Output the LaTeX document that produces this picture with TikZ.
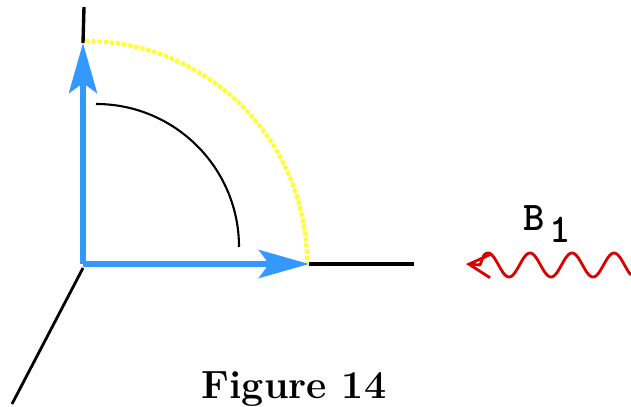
\documentclass[tikz,border=0pt]{standalone}
\usetikzlibrary{arrows.meta}
\definecolor{vecblue}{RGB}{51,153,255}
\definecolor{dotyellow}{RGB}{255,255,51}
\definecolor{wavered}{RGB}{221,0,0}

\begin{document}
\begin{tikzpicture}[x=0.025cm,y=0.025cm]
\tikzset{
  axisline/.style={draw=black,line width=2.4pt},
  diagline/.style={draw=black,line width=2pt},
  vector/.style={draw=vecblue,line width=4pt,-{Stealth[length=12.5mm,width=7mm,inset=2.5mm]}},
  sweep/.style={draw=black,line width=1.5pt},
  dotarc/.style={draw=dotyellow,line width=3pt,dash pattern=on 1.1mm off 0.45mm},
  wave/.style={draw=wavered,line width=2pt,line join=round},
  label/.style={inner sep=0pt}
}
\useasboundingbox (0,0) rectangle (631,407);
% frame
\coordinate (n_O) at (83,143);
\coordinate (n_Ztip) at (83,364);
\coordinate (n_Ztop) at (84,400);
\coordinate (n_Xtip) at (309,143);
\coordinate (n_Xend) at (414,143);
\coordinate (n_Yend) at (12,3);
\coordinate (n_Ystart) at (83,139);
\draw[axisline] (n_Ztip) -- (n_Ztop);
\draw[axisline] (n_Xtip) -- (n_Xend);
\draw[diagline] (n_Ystart) -- (n_Yend);
% rotation
\draw[dotarc] (85,366) arc (90:0:222);
\draw[sweep] (96,303) arc (90:0:143);
\draw[vector] (n_O) -- (n_Ztip);
\draw[vector] (n_O) -- (n_Xtip);
% rf field
\coordinate (n_Wtip) at (466,143);
\coordinate (n_Wbend) at (480,142);
\draw[wave,{Straight Barb[length=5.5mm,width=6mm]}-] (n_Wtip) -- (n_Wbend) -- plot[domain=484:631,samples=120] (\x,{142+12*sin((\x-519.5)*8.5714)});
\node[label,font=\fontsize{29}{29}\selectfont\ttfamily\bfseries] (n_B) at (547,183) {B\hspace{0.12em}\raisebox{-0.3em}{1}};
\node[label,font=\fontsize{28}{28}\selectfont\bfseries] (n_cap) at (294,18) {Figure 14};
\end{tikzpicture}
\end{document}
